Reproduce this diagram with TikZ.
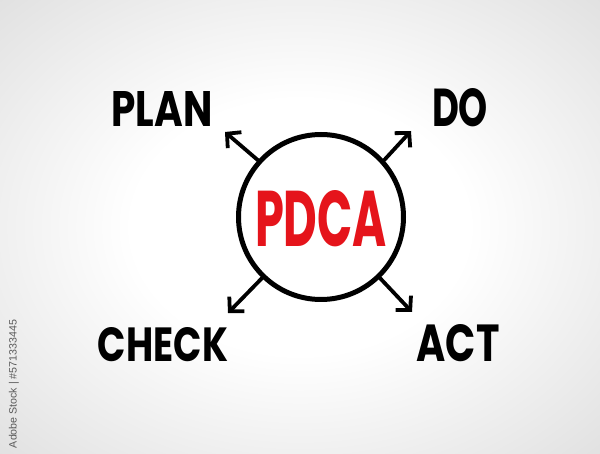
\documentclass[tikz,border=0pt]{standalone}
\usepackage{fontspec}
\usepackage{graphicx}
\newfontfamily\hand{Poppins}
\newfontfamily\wmfont{Liberation Sans}
\usetikzlibrary{arrows.meta}
\definecolor{pdcared}{HTML}{E5141B}
\definecolor{wmgray}{HTML}{5A5A5A}
\pgfdeclareradialshading{bgshade}{\pgfpoint{0bp}{0bp}}{color(0bp)=(white); color(14bp)=(white); color(36bp)=(black!12); color(50bp)=(black!12)}
\tikzset{
  lbl/.style={inner sep=0pt, font=\hand\bfseries, text=black},
  arr/.style={line width=3.8pt, line cap=round, line join=round, -{Straight Barb[length=10pt,width=21pt]}},
  ring/.style={circle, draw=black, line width=5pt, minimum size=165pt, inner sep=0pt, fill=white}
}
\begin{document}
\begin{tikzpicture}[x=1pt,y=-1pt]
\useasboundingbox (0,0) rectangle (600,454);
\shade[shading=bgshade] (0,0) rectangle (600,454);
\node[ring] (c) at (321,217) {};
\node[lbl, text=pdcared] (pdca) at (321,219) {\resizebox{132pt}{56pt}{PDCA}};
\node[lbl] (plan) at (162,109.5) {\resizebox{101pt}{35pt}{PLAN}};
\node[lbl] (do) at (460,108) {\resizebox{56pt}{38pt}{DO}};
\node[lbl] (check) at (163,345) {\resizebox{130pt}{34pt}{CHECK}};
\node[lbl] (act) at (458,343) {\resizebox{83pt}{37pt}{ACT}};
\coordinate (tpl) at (225,132);
\coordinate (tdo) at (411,131);
\coordinate (tch) at (228,313);
\coordinate (tac) at (412,312);
\draw[arr] (c.138) -- (tpl);
\draw[arr] (c.42) -- (tdo);
\draw[arr] (c.-134) -- (tch);
\draw[arr] (c.-46) -- (tac);
\node[rotate=90, inner sep=0pt, text=wmgray, font=\wmfont] (stock) at (14,384) {\resizebox{128pt}{!}{Adobe Stock | \#571333445}};
\end{tikzpicture}
\end{document}
